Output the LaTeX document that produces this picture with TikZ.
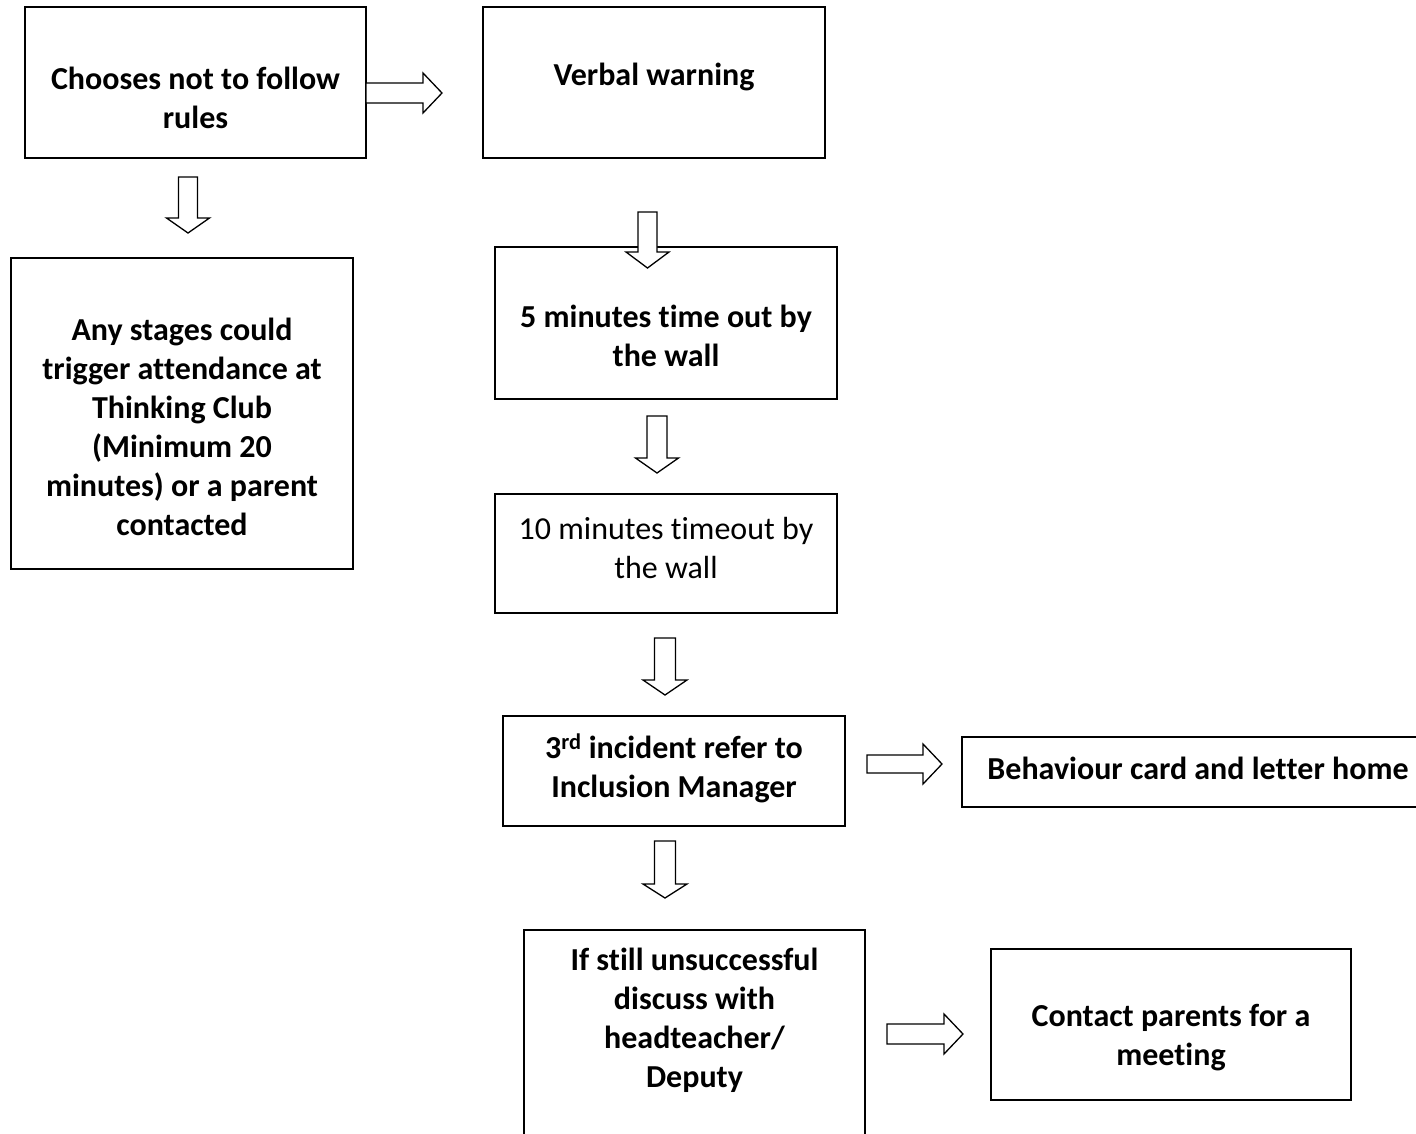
\documentclass[tikz,border=0pt]{standalone}
\usepackage{fontspec}
\setmainfont{Carlito}[Ligatures={CommonOff}]
\newcommand\nolig{\kern0pt{}}
\begin{document}
\begin{tikzpicture}[x=1pt,y=-1pt,
  box/.style={draw=black,line width=1.3pt,inner sep=0pt,outer sep=0pt,fill=white},
  txt/.style={align=center,inner sep=0pt,font=\fontsize{32}{39}\selectfont\bfseries},
  txtr/.style={align=center,inner sep=0pt,font=\fontsize{32}{39}\selectfont},
  barrow/.style={draw=black,line width=1.3pt,fill=white,line join=miter}]
\useasboundingbox (0,0) rectangle (1416,1133);
\newcommand\blockR[6]{\draw[barrow] (#1,#2-#5) -- (#3,#2-#5) -- (#3,#2-#6) -- (#4,#2) -- (#3,#2+#6) -- (#3,#2+#5) -- (#1,#2+#5) -- cycle;}
\newcommand\blockD[6]{\draw[barrow] (#1-#5,#2) -- (#1+#5,#2) -- (#1+#5,#3) -- (#1+#6,#3) -- (#1,#4) -- (#1-#6,#3) -- (#1-#5,#3) -- cycle;}
% boxes
\node[box,minimum width=341pt,minimum height=151pt] (b1) at (195.5,82.5) {};
\node[box,minimum width=342pt,minimum height=151pt] (b2) at (654,82.5) {};
\node[box,minimum width=342pt,minimum height=311pt] (b3) at (182,413.5) {};
\node[box,minimum width=342pt,minimum height=152pt] (b4) at (666,323) {};
\node[box,minimum width=342pt,minimum height=119pt] (b5) at (666,553.5) {};
\node[box,minimum width=342pt,minimum height=110pt] (b6) at (674,771) {};
\node[box,minimum width=480pt,minimum height=70pt] (b7) at (1202,772) {};
\node[box,minimum width=341pt,minimum height=220pt] (b8) at (694.5,1040) {};
\node[box,minimum width=360pt,minimum height=151pt] (b9) at (1171,1024.5) {};
% texts
\node[txt] (t1) at (195.5,98) {Chooses not to follow\\rules};
\node[txt] (t2) at (654,76.5) {Verbal warning};
\node[txt] (t3) at (182,427) {Any stages could\\trigger at\nolig tendance at\\Thinking Club\\(Minimum 20\\minutes) or a parent\\contacted};
\node[txt] (t4) at (666,336) {5 minutes t\nolig ime out by\\the wall};
\node[txtr] (t5) at (666,547.5) {10 minutes t\nolig imeout by\\the wall};
\node[txt] (t6) at (674,768) {3\textsuperscript{rd} incident refer to\\Inclusion Manager};
\node[txt] (t7) at (1198,768.5) {Behaviour card and let\nolig ter home};
\node[txt] (t8) at (694.5,1020.5) {If st\nolig ill unsuccessful\\discuss with\\headteacher/\\Deputy};
\node[txt] (t9) at (1171,1038) {Contact parents for a\\meeting};
% block arrows
\blockR{366}{93}{423}{442}{10}{20}
\blockR{867}{764}{923}{942}{9}{20}
\blockR{887}{1034}{944}{963}{10}{20}
\blockD{188}{177}{218}{233}{9.5}{21.5}
\blockD{647.5}{212}{252}{268}{9.5}{21.5}
\blockD{657}{416}{458}{473}{10}{21.5}
\blockD{665}{638}{680}{695}{10.5}{22}
\blockD{665}{841}{884}{898}{10.5}{22}
\end{tikzpicture}
\end{document}
